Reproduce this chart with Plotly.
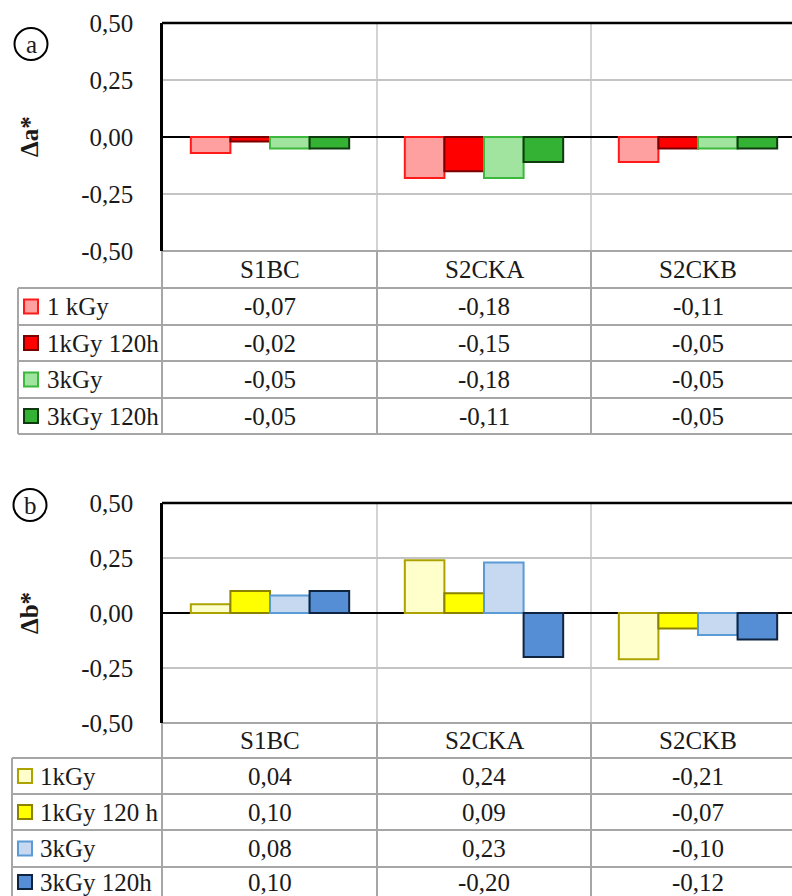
import plotly.graph_objects as go

# ---------------- data ----------------
categories = ["S1BC", "S2CKA", "S2CKB"]

a_series = ["1 kGy", "1kGy 120h", "3kGy", "3kGy 120h"]
a_1kGy = [-0.07, -0.18, -0.11]
a_1kGy_120h = [-0.02, -0.15, -0.05]
a_3kGy = [-0.05, -0.18, -0.05]
a_3kGy_120h = [-0.05, -0.11, -0.05]
a_values = [a_1kGy, a_1kGy_120h, a_3kGy, a_3kGy_120h]

b_series = ["1kGy", "1kGy 120 h", "3kGy", "3kGy 120h"]
b_1kGy = [0.04, 0.24, -0.21]
b_1kGy_120h = [0.10, 0.09, -0.07]
b_3kGy = [0.08, 0.23, -0.10]
b_3kGy_120h = [0.10, -0.20, -0.12]
b_values = [b_1kGy, b_1kGy_120h, b_3kGy, b_3kGy_120h]

y_ticks = [-0.5, -0.25, 0.0, 0.25, 0.5]
y_tick_labels = ["-0,50", "-0,25", "0,00", "0,25", "0,50"]

# ---------------- styles ----------------
a_fill = ["#FFA0A0", "#FF0000", "#A0E4A0", "#33B233"]
a_edge = ["#FF1A1A", "#7A0000", "#3CB83C", "#0E3A0E"]
b_fill = ["#FFFFCC", "#FFFF00", "#C6D9F1", "#558ED5"]
b_edge = ["#ADA300", "#8A8200", "#5B9BD5", "#0F2440"]

W, H = 792, 896
FONT = "Liberation Serif, 'Times New Roman', Times, serif"
FS = 25
TXT = "#1a1a1a"
TGRAY = "#A6A6A6"
GGRAY = "#C4C4C4"
CAT_W = 214.0


def px(x):
    return x / W


def py(y):
    return 1 - y / H


xpos = list(range(len(categories)))

fig = go.Figure()

panels = [
    dict(values=a_values, names=a_series, fill=a_fill, edge=a_edge,
         xa="x", ya="y", left=163, top=23, bottom=251,
         rows=[251, 288, 325, 361, 398, 434], tleft=18, keyx=24, textx=45,
         title="Δa*", circ=(31, 44), lab="a"),
    dict(values=b_values, names=b_series, fill=b_fill, edge=b_edge,
         xa="x2", ya="y2", left=163, top=503, bottom=723,
         rows=[723, 758, 794, 830, 867, 903], tleft=12, keyx=18, textx=38,
         title="Δb*", circ=(30, 505), lab="b"),
]

shapes = []
annotations = []

for p in panels:
    for vals, name, fc, ec in zip(p["values"], p["names"], p["fill"], p["edge"]):
        fig.add_trace(go.Bar(
            x=xpos, y=vals, name=name, xaxis=p["xa"], yaxis=p["ya"],
            marker=dict(color=fc, line=dict(color=ec, width=2)),
            showlegend=False,
        ))

    rows = p["rows"]
    xref_ax = p["xa"]
    # vertical category separators (plot part lighter, table part darker)
    for i in range(len(categories) - 1):
        shapes.append(dict(type="line", xref=xref_ax, yref="paper",
                           x0=i + 0.5, x1=i + 0.5, y0=py(p["bottom"]), y1=py(p["top"]),
                           line=dict(color=GGRAY, width=1.5), layer="below"))
        shapes.append(dict(type="line", xref=xref_ax, yref="paper",
                           x0=i + 0.5, x1=i + 0.5, y0=py(rows[-1]), y1=py(p["bottom"]),
                           line=dict(color=TGRAY, width=2)))
    # top black border of plot area
    shapes.append(dict(type="line", xref="paper", yref="paper",
                       x0=px(p["left"] - 1), x1=1, y0=py(p["top"]), y1=py(p["top"]),
                       line=dict(color="black", width=2.5)))
    # table horizontal lines
    shapes.append(dict(type="line", xref="paper", yref="paper",
                       x0=px(p["left"]), x1=1, y0=py(rows[0]), y1=py(rows[0]),
                       line=dict(color=TGRAY, width=2)))
    for r in rows[1:]:
        shapes.append(dict(type="line", xref="paper", yref="paper",
                           x0=px(p["tleft"]), x1=1, y0=py(r), y1=py(r),
                           line=dict(color=TGRAY, width=2)))
    # table vertical lines
    shapes.append(dict(type="line", xref="paper", yref="paper",
                       x0=px(p["tleft"]), x1=px(p["tleft"]), y0=py(rows[-1]), y1=py(rows[1]),
                       line=dict(color=TGRAY, width=2)))
    shapes.append(dict(type="line", xref="paper", yref="paper",
                       x0=px(p["left"] - 1), x1=px(p["left"] - 1), y0=py(rows[-1]), y1=py(rows[0]),
                       line=dict(color=TGRAY, width=2)))
    # header labels
    for i, c in enumerate(categories):
        annotations.append(dict(x=i, y=py((rows[0] + rows[1]) / 2), xref=xref_ax, yref="paper",
                                text=c, showarrow=False, xanchor="center", yanchor="middle",
                                font=dict(family=FONT, size=FS, color=TXT)))
    # rows: legend key + name + values
    for k, (vals, name, fc, ec) in enumerate(zip(p["values"], p["names"], p["fill"], p["edge"])):
        yc = (rows[k + 1] + rows[k + 2]) / 2
        if yc + 14 > H:
            yc = H - 14
        shapes.append(dict(type="rect", xref="paper", yref="paper",
                           x0=px(p["keyx"]), x1=px(p["keyx"] + 14),
                           y0=py(yc + 7), y1=py(yc - 7),
                           fillcolor=fc, line=dict(color=ec, width=2)))
        annotations.append(dict(x=px(p["textx"]), y=py(yc), xref="paper", yref="paper",
                                text=name, showarrow=False, xanchor="left", yanchor="middle",
                                font=dict(family=FONT, size=FS, color=TXT)))
        for i, v in enumerate(vals):
            annotations.append(dict(x=i, y=py(yc), xref=xref_ax, yref="paper",
                                    text=f"{v:.2f}".replace(".", ","), showarrow=False,
                                    xanchor="center", yanchor="middle",
                                    font=dict(family=FONT, size=FS, color=TXT)))
    # y axis title
    annotations.append(dict(x=px(29), y=py((p["top"] + p["bottom"]) / 2), xref="paper", yref="paper",
                            text="<b>" + p["title"] + "</b>", showarrow=False, textangle=-90,
                            xanchor="center", yanchor="middle",
                            font=dict(family=FONT, size=25, color=TXT)))
    # circled panel label
    cx, cy = p["circ"]
    shapes.append(dict(type="circle", xref="paper", yref="paper",
                       x0=px(cx - 16.5), x1=px(cx + 16.5), y0=py(cy + 16), y1=py(cy - 16),
                       line=dict(color="black", width=2)))
    annotations.append(dict(x=px(cx), y=py(cy), xref="paper", yref="paper",
                            text=p["lab"], showarrow=False, xanchor="center", yanchor="middle",
                            font=dict(family=FONT, size=FS, color=TXT)))

x_range = [-0.5, -0.5 + (W - 163) / CAT_W]

axis_x = dict(range=x_range, showgrid=False, zeroline=False, showline=False,
              showticklabels=False, ticks="", fixedrange=True, automargin=False)
axis_y = dict(range=[-0.5, 0.5], tickmode="array", tickvals=y_ticks, ticktext=y_tick_labels,
              showgrid=True, gridcolor=GGRAY, gridwidth=1.5,
              zeroline=True, zerolinecolor="black", zerolinewidth=2,
              showline=True, linecolor="black", linewidth=2.5,
              ticks="", ticklabelstandoff=22, automargin=False,
              tickfont=dict(family=FONT, size=FS, color=TXT))

fig.update_layout(
    width=W, height=H,
    margin=dict(l=0, r=0, t=0, b=0, pad=0, autoexpand=False),
    paper_bgcolor="white", plot_bgcolor="white",
    barmode="group", bargap=0.26, bargroupgap=0,
    xaxis=dict(axis_x, domain=[px(163), 1], anchor="y"),
    yaxis=dict(axis_y, domain=[py(251), py(23)], anchor="x"),
    xaxis2=dict(axis_x, domain=[px(163), 1], anchor="y2"),
    yaxis2=dict(axis_y, domain=[py(723), py(503)], anchor="x2"),
    shapes=shapes,
    annotations=annotations,
)

fig.write_html("out.html")
